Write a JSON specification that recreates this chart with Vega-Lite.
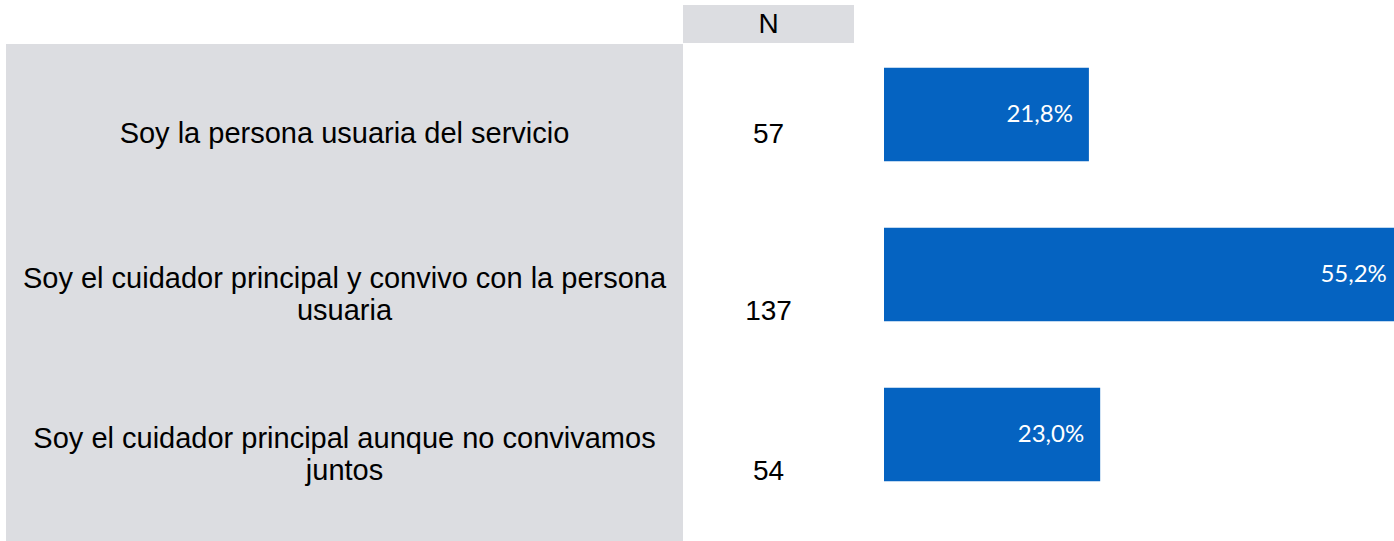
{
  "$schema": "https://vega.github.io/schema/vega-lite/v6.json",
  "padding": {"left": 6, "top": 5, "right": 0, "bottom": 0},
  "background": "white",
  "spacing": 1,
  "config": {
    "view": {"stroke": null},
    "locale": {"number": {"decimal": ",", "thousands": ".", "grouping": [3], "currency": ["", " €"]}},
    "concat": {"spacing": 0}
  },
  "datasets": {
    "rows": [
      {"label": "Soy la persona usuaria del servicio", "n": 57, "share": 0.218},
      {"label": "Soy el cuidador principal y convivo con la persona\nusuaria", "n": 137, "share": 0.552},
      {"label": "Soy el cuidador principal aunque no convivamos\njuntos", "n": 54, "share": 0.23}
    ]
  },
  "vconcat": [
    {
      "hconcat": [
        {
          "width": 677,
          "height": 38,
          "data": {"values": [{"t": ""}]},
          "mark": {"type": "text"},
          "encoding": {"text": {"field": "t"}}
        },
        {
          "width": 171,
          "height": 38,
          "view": {"fill": "#dcdde1"},
          "data": {"values": [{"t": "N"}]},
          "mark": {"type": "text", "font": "Liberation Sans", "fontSize": 28, "color": "#000000", "align": "center", "baseline": "middle", "dy": 1},
          "encoding": {"text": {"field": "t"}}
        }
      ],
      "spacing": 0
    },
    {
      "hconcat": [
        {
          "width": 677,
          "height": 497,
          "view": {"fill": "#dcdde1"},
          "data": {"name": "rows"},
          "transform": [
            {"calculate": "indexof(datum.label, '\\n') >= 0 ? 1 : 0", "as": "extra"}
          ],
          "encoding": {
            "y": {"field": "label", "type": "nominal", "sort": null, "axis": null, "scale": {"range": [-9.5, 470.5], "paddingInner": 0, "paddingOuter": 0}},
            "text": {"field": "label"}
          },
          "layer": [
            {
              "transform": [{"filter": "datum.extra == 0"}],
              "mark": {"type": "text", "font": "Liberation Sans", "fontSize": 29, "color": "#000000", "align": "center", "baseline": "middle", "lineBreak": "\n", "lineHeight": 32, "dy": 19}
            },
            {
              "transform": [{"filter": "datum.extra == 1"}],
              "mark": {"type": "text", "font": "Liberation Sans", "fontSize": 29, "color": "#000000", "align": "center", "baseline": "middle", "lineBreak": "\n", "lineHeight": 32, "dy": 4}
            }
          ]
        },
        {
          "width": 171,
          "height": 497,
          "data": {"name": "rows"},
          "transform": [
            {"calculate": "indexof(datum.label, '\\n') >= 0 ? 1 : 0", "as": "extra"}
          ],
          "encoding": {
            "y": {"field": "label", "type": "nominal", "sort": null, "axis": null, "scale": {"range": [-9.5, 470.5], "paddingInner": 0, "paddingOuter": 0}},
            "text": {"field": "n", "type": "quantitative"}
          },
          "layer": [
            {
              "transform": [{"filter": "datum.extra == 0"}],
              "mark": {"type": "text", "font": "Liberation Sans", "fontSize": 28, "color": "#000000", "align": "center", "baseline": "middle", "dy": 20}
            },
            {
              "transform": [{"filter": "datum.extra == 1"}],
              "mark": {"type": "text", "font": "Liberation Sans", "fontSize": 28, "color": "#000000", "align": "center", "baseline": "middle", "dy": 37}
            }
          ]
        },
        {
          "width": 540,
          "height": 497,
          "data": {"name": "rows"},
          "encoding": {
            "y": {"field": "label", "type": "nominal", "sort": null, "axis": null, "scale": {"range": [-9.5, 470.5], "paddingInner": 0, "paddingOuter": 0}},
            "x": {"field": "share", "type": "quantitative", "axis": null, "scale": {"domain": [0, 0.5426], "range": [30, 540], "nice": false, "zero": true}}
          },
          "layer": [
            {
              "mark": {"type": "bar", "color": "#0563c1", "height": {"band": 0.584}, "clip": true}
            },
            {
              "mark": {"type": "text", "font": "Lato", "fontSize": 24, "color": "#ffffff", "align": "right", "baseline": "middle", "dx": -16},
              "encoding": {"text": {"field": "share", "type": "quantitative", "format": ".1%"}}
            }
          ]
        }
      ],
      "spacing": 0,
      "bounds": "flush"
    }
  ]
}
